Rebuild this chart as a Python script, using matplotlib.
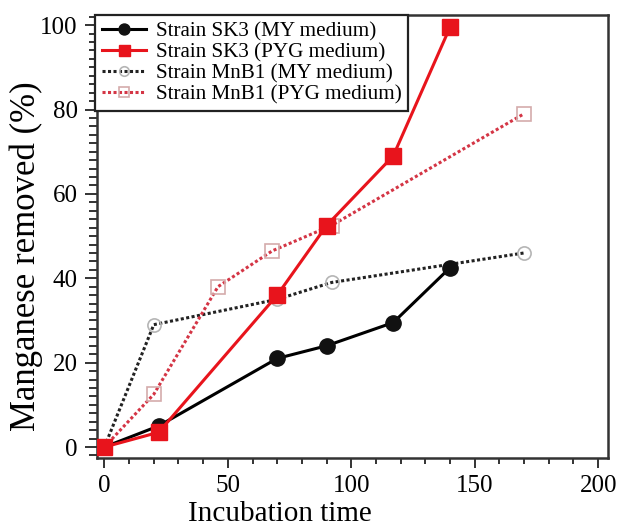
import matplotlib
matplotlib.use("Agg")
import matplotlib.pyplot as plt
from matplotlib.ticker import MultipleLocator

plt.rcParams['font.family'] = ['Liberation Serif', 'DejaVu Serif']

sk3_my_x = [0, 22, 70, 90, 117, 140]
sk3_my_y = [0, 5, 21, 24, 29.5, 42.5]
sk3_pyg_x = [0, 22, 70, 90, 117, 140]
sk3_pyg_y = [0, 3.5, 36, 52.5, 69, 99.5]
mnb1_my_x = [0, 20, 70, 92, 170]
mnb1_my_y = [0, 29, 35, 39, 46]
mnb1_pyg_x = [0, 20, 46, 68, 92, 170]
mnb1_pyg_y = [0, 12.5, 38, 46.5, 52.5, 79]

labels = ["Strain SK3 (MY medium)", "Strain SK3 (PYG medium)",
          "Strain MnB1 (MY medium)", "Strain MnB1 (PYG medium)"]

W, H = 618, 528
fig = plt.figure(figsize=(W/100, H/100), dpi=100)
L, R, T, B = 97, 608, 15, 458
ax = fig.add_axes([L/W, 1-B/H, (R-L)/W, (B-T)/H])

red = '#e8141c'
ax.plot(mnb1_my_x, mnb1_my_y, linestyle=(0, (1, 0.8)), color='#222222', lw=2.2,
        marker='o', ms=9.5, mfc='none', mec='#b5b5b5', mew=1.2, label=labels[2], zorder=2)
ax.plot(mnb1_pyg_x, mnb1_pyg_y, linestyle=(0, (1, 0.8)), color='#d43545', lw=2.2,
        marker='s', ms=9.5, mfc='none', mec='#d4abab', mew=1.2, label=labels[3], zorder=2)
ax.plot(sk3_my_x, sk3_my_y, '-', color='black', lw=2.2,
        marker='o', ms=11, mfc='#111111', mec='#111111', label=labels[0], zorder=3)
ax.plot(sk3_pyg_x, sk3_pyg_y, '-', color=red, lw=2.2,
        marker='s', ms=11, mfc=red, mec=red, label=labels[1], zorder=4)

ax.set_xlim(-3, 204)
ax.set_ylim(-2.6, 102.4)
ax.xaxis.set_major_locator(MultipleLocator(50))
ax.xaxis.set_minor_locator(MultipleLocator(10))
ax.yaxis.set_major_locator(MultipleLocator(20))
ax.yaxis.set_minor_locator(MultipleLocator(2))
ax.tick_params(which='both', direction='out', top=False, right=False, width=1.4,
               labelsize=18, color='#333333')
ax.tick_params(axis='x', which='major', length=7.5, pad=5)
ax.tick_params(axis='x', which='minor', length=4.5)
ax.tick_params(axis='y', which='major', length=9, pad=5)
ax.tick_params(axis='y', which='minor', length=6)
for s in ax.spines.values():
    s.set_linewidth(1.8)
    s.set_color('#333333')

ax.set_xlabel("Incubation time", fontsize=21)
ax.xaxis.set_label_coords(0.358, -0.097)
ax.set_ylabel("Manganese removed (%)", fontsize=25)
ax.yaxis.set_label_coords(-0.106, 0.455)

h, l = ax.get_legend_handles_labels()
order = [2, 3, 0, 1]
leg = ax.legend([h[i] for i in order], [l[i] for i in order], loc='upper left',
                bbox_to_anchor=(-0.004, 1.0), fontsize=15.2, frameon=True, fancybox=False,
                edgecolor='#222222', framealpha=1, handlelength=2.1, borderaxespad=0,
                labelspacing=0.05, borderpad=0.32, handletextpad=0.45, markerscale=0.72)
leg.get_frame().set_linewidth(1.6)

fig.savefig("out.png", dpi=100)
